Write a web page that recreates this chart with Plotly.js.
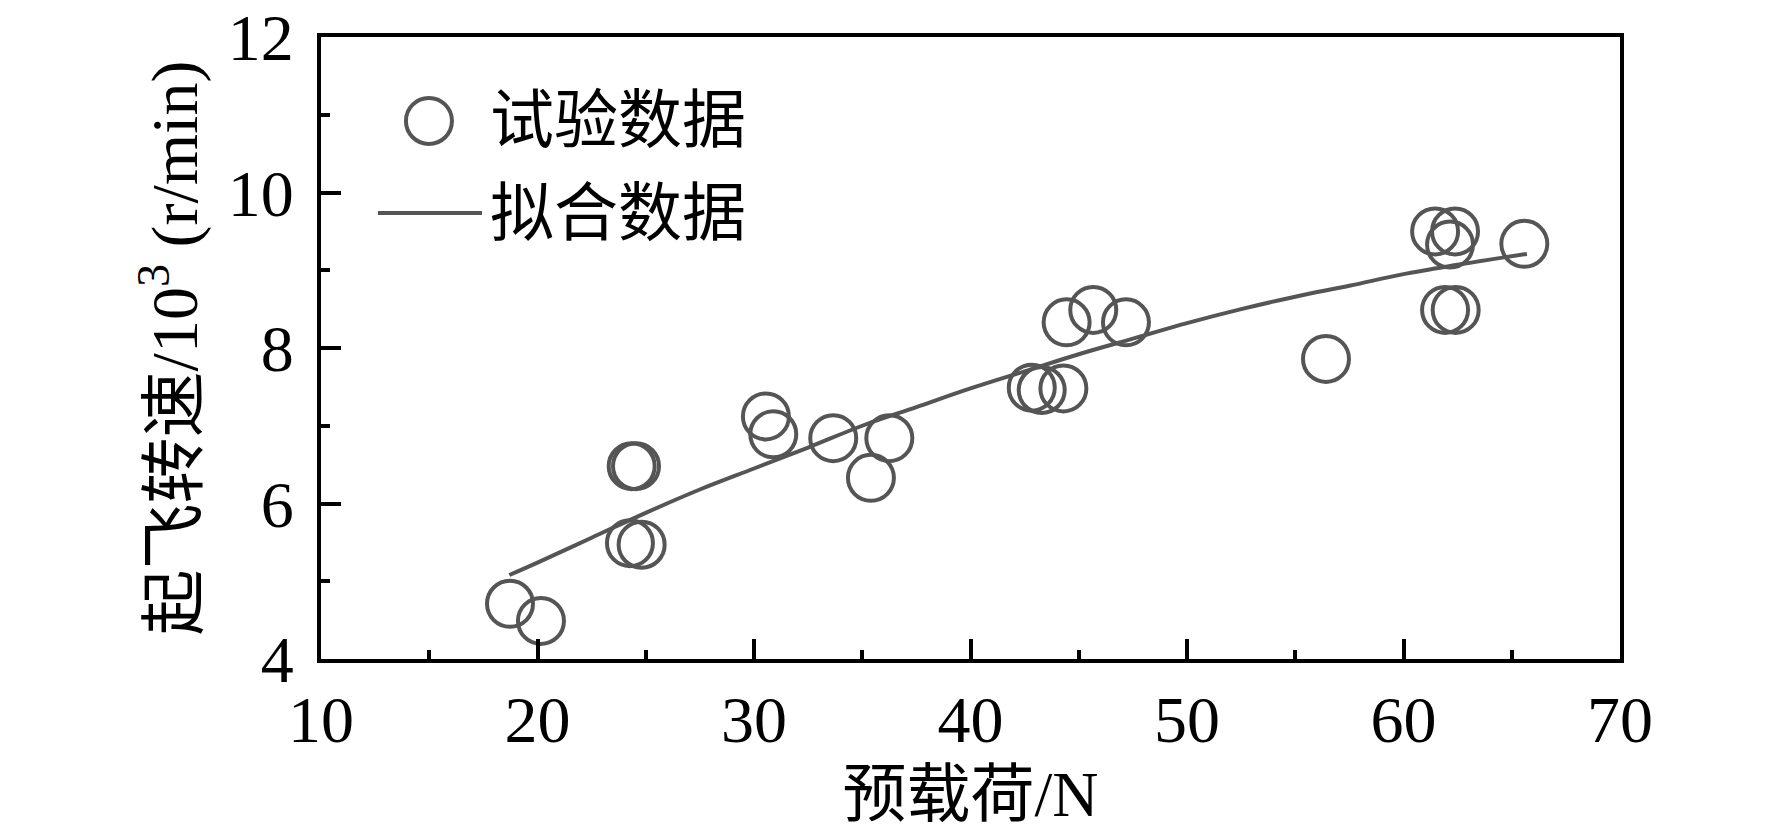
<!DOCTYPE html>
<html>
<head>
<meta charset="utf-8">
<script src="https://cdn.plot.ly/plotly-3.0.1.min.js"></script>
<style>
  body { margin: 0; background: #fff; }
  #chart { width: 1772px; height: 834px; }
</style>
</head>
<body>
<div id="chart"></div>
<script>
// test points
const testLoad = [18.73, 20.16, 24.35, 24.55, 24.27, 24.81, 30.55, 30.89, 33.66, 35.40, 36.25, 42.83, 43.29, 44.29, 44.44, 45.67, 47.18, 56.42, 61.46, 62.15, 62.38, 61.92, 62.41, 65.58];
const testSpeed = [4.71, 4.49, 6.48, 6.48, 5.49, 5.47, 7.12, 6.89, 6.84, 6.33, 6.84, 7.49, 7.46, 7.48, 8.33, 8.49, 8.33, 7.86, 9.50, 9.33, 9.50, 8.49, 8.49, 9.34];

// fitted curve
const fitLoad = [18.7, 20, 22.5, 25, 27.5, 30, 32.5, 35, 37.5, 40, 42.5, 45, 47.5, 50, 52.5, 55, 57.5, 60, 62.5, 65.7];
const fitSpeed = [5.08, 5.24, 5.56, 5.88, 6.18, 6.45, 6.72, 7.00, 7.24, 7.48, 7.70, 7.92, 8.12, 8.32, 8.50, 8.66, 8.80, 8.95, 9.07, 9.21];

const legendNames = ["试验数据", "拟合数据"];

const grey = "#555555";
const fontFamily = '"Liberation Serif", "Noto Sans CJK SC", serif';

const testTrace = {
  x: testLoad,
  y: testSpeed,
  type: "scatter",
  mode: "markers",
  name: legendNames[0],
  marker: {
    symbol: "circle-open",
    size: 46,
    color: grey,
    line: { width: 4, color: grey },
  },
};

const fitTrace = {
  x: fitLoad,
  y: fitSpeed,
  type: "scatter",
  mode: "lines",
  name: legendNames[1],
  line: { color: grey, width: 4, shape: "spline" },
};

const layout = {
  width: 1772,
  height: 834,
  margin: { l: 321, r: 152, t: 37, b: 175 },
  paper_bgcolor: "#ffffff",
  plot_bgcolor: "#ffffff",
  showlegend: false,
  font: { family: fontFamily, size: 66, color: "#000" },
  xaxis: {
    range: [10, 70],
    dtick: 10,
    showgrid: false,
    zeroline: false,
    showline: true,
    mirror: true,
    linecolor: "#000",
    linewidth: 4,
    ticks: "inside",
    ticklen: 20,
    tickwidth: 4,
    tickcolor: "#000",
    ticklabelstandoff: 0,
    ticklabeloverflow: "allow",
    minor: { dtick: 5, ticks: "inside", ticklen: 9, tickwidth: 4, tickcolor: "#000", showgrid: false },
    tickfont: { size: 66 },
    title: { text: "预载荷/N", font: { size: 64 }, standoff: 17 },
  },
  yaxis: {
    range: [4, 12],
    dtick: 2,
    showgrid: false,
    zeroline: false,
    showline: true,
    mirror: true,
    linecolor: "#000",
    linewidth: 4,
    ticks: "inside",
    ticklen: 20,
    tickwidth: 4,
    tickcolor: "#000",
    ticklabelstandoff: 10,
    ticklabeloverflow: "allow",
    minor: { dtick: 1, ticks: "inside", ticklen: 9, tickwidth: 4, tickcolor: "#000", showgrid: false },
    tickfont: { size: 66 },
    title: { text: "起飞转速/10<sup>3</sup> (r/min)", font: { size: 66 }, standoff: 10 },
  },
  // hand-drawn legend, matching the wide line sample of the original
  shapes: [
    {
      type: "circle", xref: "paper", yref: "paper",
      xsizemode: "pixel", ysizemode: "pixel",
      xanchor: 0.0831, yanchor: 0.865,
      x0: -23, x1: 23, y0: -23, y1: 23,
      line: { color: grey, width: 4 },
    },
    {
      type: "line", xref: "paper", yref: "paper",
      x0: (378 - 321) / 1299, x1: (482 - 321) / 1299,
      y0: 0.717, y1: 0.717,
      line: { color: grey, width: 4 },
    },
  ],
  annotations: [
    {
      xref: "paper", yref: "paper", x: 0.1286, y: 0.865,
      xanchor: "left", yanchor: "middle", showarrow: false,
      text: legendNames[0], font: { size: 64 },
    },
    {
      xref: "paper", yref: "paper", x: 0.1286, y: 0.717,
      xanchor: "left", yanchor: "middle", showarrow: false,
      text: legendNames[1], font: { size: 64 },
    },
  ],
};

const config = { displayModeBar: false, responsive: false };

Plotly.newPlot("chart", [fitTrace, testTrace], layout, config);
</script>
</body>
</html>
